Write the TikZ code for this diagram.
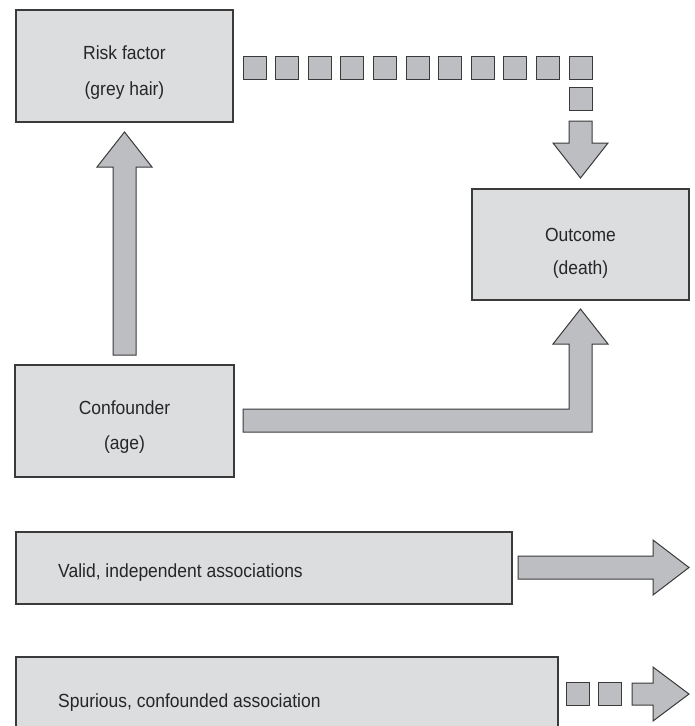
\documentclass[tikz,border=0pt]{standalone}
\usepackage{fontspec}
\setmainfont{Liberation Sans}[FakeStretch=0.92]
\definecolor{boxgrey}{HTML}{DCDDDF}
\definecolor{arrowgrey}{HTML}{BDBEC1}
\definecolor{linegrey}{HTML}{3A3A3A}
\definecolor{textgrey}{HTML}{262626}
\begin{document}
\begin{tikzpicture}[x=1pt,y=-1pt,
  box/.style={draw=linegrey, fill=boxgrey, line width=1.3pt, rectangle,
    inner sep=0pt, outer sep=0pt},
  blockarrow/.style={draw=linegrey, fill=arrowgrey, line width=1pt, line join=miter},
  dashsq/.style={draw=linegrey, fill=arrowgrey, line width=1pt, rectangle,
    inner sep=0pt, outer sep=0pt, minimum size=23pt},
  lbl/.style={font=\fontsize{19}{22}\selectfont, text=textgrey, inner sep=0pt},
  lblc/.style={lbl, anchor=base},
  lbll/.style={lbl, anchor=base west}]
\useasboundingbox (0,0) rectangle (694,726);
\clip (0,0) rectangle (694,726);

% boxes
\node[box, minimum width=217pt, minimum height=112pt] (risk) at (124.5,66) {};
\node[box, minimum width=217pt, minimum height=111pt] (outcome) at (580.5,244.5) {};
\node[box, minimum width=219pt, minimum height=112pt] (conf) at (124.5,421) {};
\node[box, minimum width=496pt, minimum height=72pt] (valid) at (264,568) {};
\node[box, minimum width=542pt, minimum height=100pt] (spur) at (287,707) {};

% labels
\node[lblc] (riskA) at (124.5,59) {Risk factor};
\node[lblc] (riskB) at (124.5,95) {(grey hair)};
\node[lblc] (outA) at (580.5,241) {Outcome};
\node[lblc] (outB) at (580.5,274) {(death)};
\node[lblc] (confA) at (124.5,414) {Confounder};
\node[lblc] (confB) at (124.5,449) {(age)};
\node[lbll] (validT) at (58,577) {Valid, independent associations};
\node[lbll] (spurT) at (58,707) {Spurious, confounded association};

% confounder -> risk factor
\draw[blockarrow] (113,355) -- (136,355) -- (136,167) -- (152,167)
  -- (124.5,132) -- (97,167) -- (113,167) -- cycle;

% confounder -> outcome (bent)
\draw[blockarrow] (243,409) -- (569,409) -- (569,344) -- (553,344)
  -- (580.5,309) -- (608,344) -- (592,344) -- (592,432) -- (243,432) -- cycle;

% risk factor -> outcome (spurious, dashed)
\foreach \i in {0,...,10}
  \node[dashsq] (d\i) at ({254.5+32.6*\i},67.5) {};
\node[dashsq] (dv) at (580.5,99) {};
\draw[blockarrow] (569,121) -- (592,121) -- (592,143) -- (608,143)
  -- (580.5,178) -- (553,143) -- (569,143) -- cycle;

% legend arrows
\draw[blockarrow] (518,556) -- (653,556) -- (653,540) -- (689,567.5)
  -- (653,595) -- (653,579) -- (518,579) -- cycle;
\node[dashsq] (ls1) at (577.5,694) {};
\node[dashsq] (ls2) at (610,694) {};
\draw[blockarrow] (632,683) -- (653,683) -- (653,667) -- (689,694)
  -- (653,721) -- (653,705) -- (632,705) -- cycle;
\end{tikzpicture}
\end{document}
